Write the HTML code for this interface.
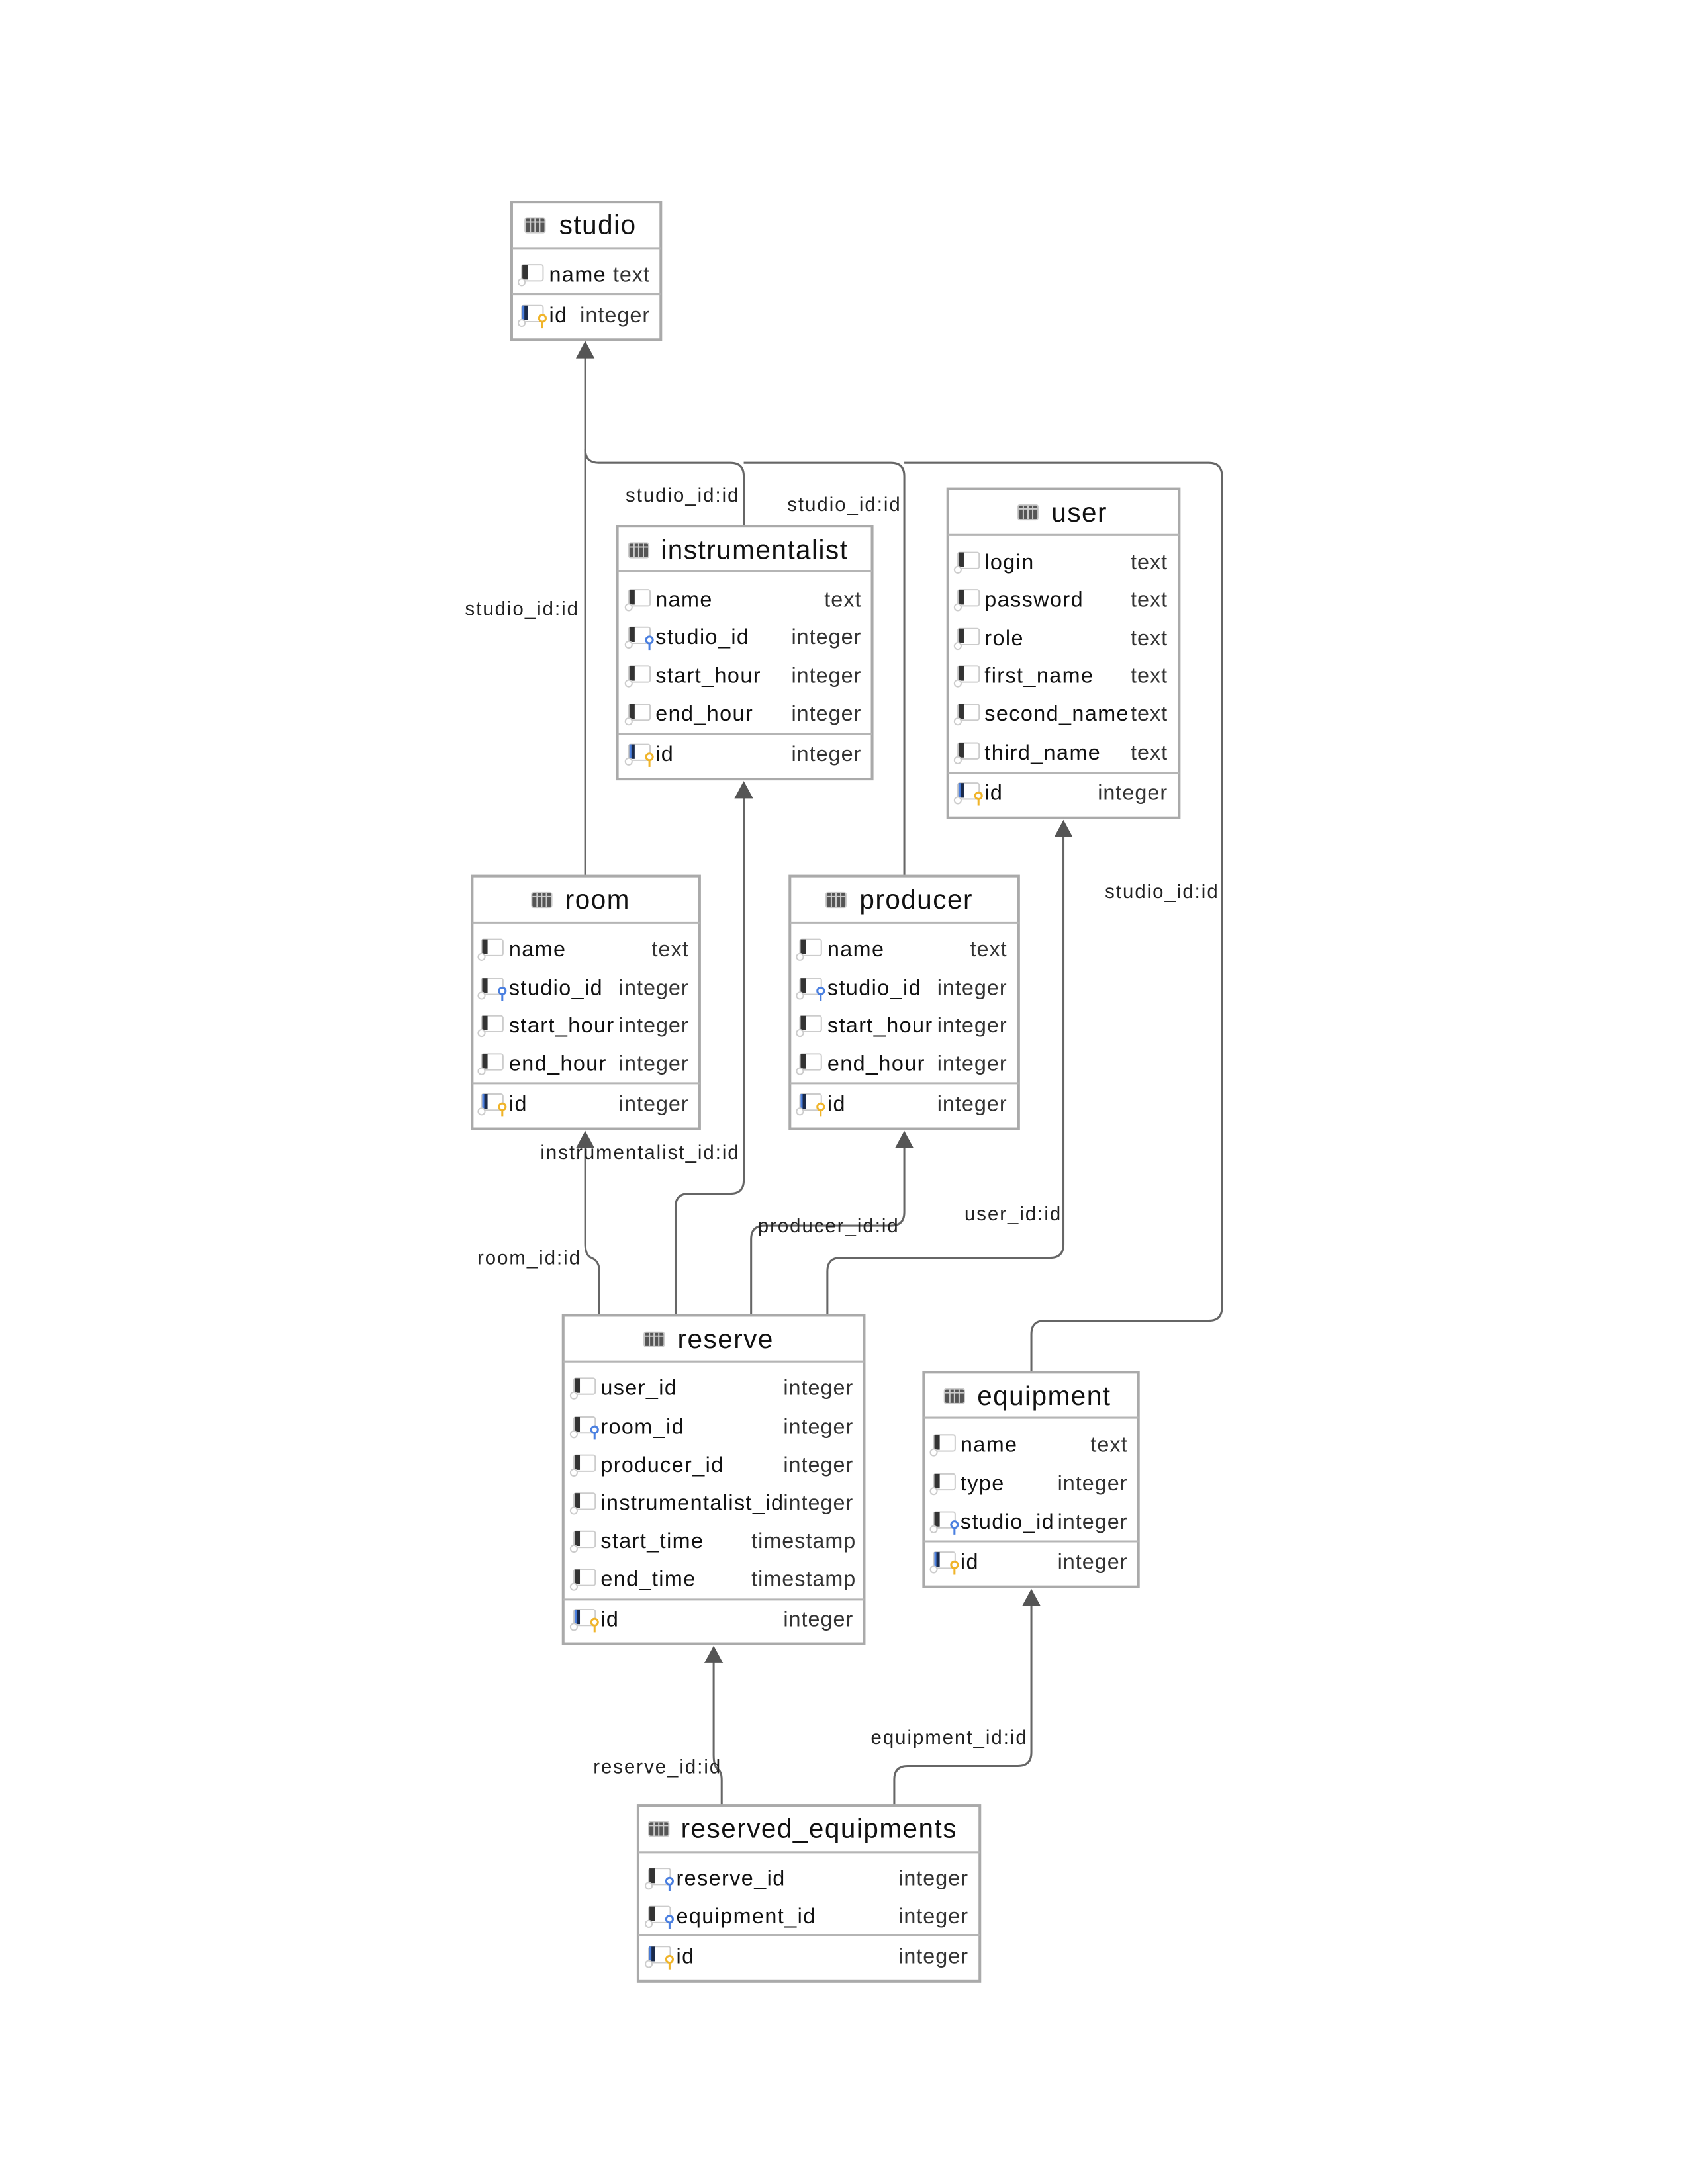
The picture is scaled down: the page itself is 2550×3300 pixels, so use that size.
<!DOCTYPE html>
<html><head><meta charset="utf-8"><style>
html,body{margin:0;padding:0;background:#fff;}
svg{display:block;}
text{font-family:"Liberation Sans",sans-serif;}
.t{font-size:40px;fill:#111;letter-spacing:1.5px;}
.n{font-size:32px;fill:#111;letter-spacing:1.4px;}
.ty{font-size:32px;fill:#333;text-anchor:end;letter-spacing:1px;}
.l{font-size:29px;fill:#222;letter-spacing:2px;}
.box{fill:#fff;stroke:#aaa;stroke-width:4;}
.sep{stroke:#b5b5b5;stroke-width:3;}
.c{fill:none;stroke:#666;stroke-width:3;}
</style></head><body>
<svg width="2550" height="3300" viewBox="0 0 2550 3300" xmlns="http://www.w3.org/2000/svg">
<defs>
<g id="tbl"><rect x="0" y="0" width="30" height="22" rx="3" fill="#555" stroke="#ccc" stroke-width="2"/><line x1="8" y1="1" x2="8" y2="21" stroke="#ccc" stroke-width="2"/><line x1="15" y1="1" x2="15" y2="21" stroke="#ccc" stroke-width="2"/><line x1="22" y1="1" x2="22" y2="21" stroke="#ccc" stroke-width="2"/><line x1="1" y1="6" x2="29" y2="6" stroke="#ccc" stroke-width="2"/></g>
<g id="col"><rect x="0" y="-14" width="32" height="24" rx="3" fill="#fff" stroke="#ccc" stroke-width="2"/><rect x="1" y="-14" width="8" height="22" fill="#333"/><circle cx="0" cy="12" r="5" fill="#fff" stroke="#ccc" stroke-width="2"/></g>
<g id="pk"><rect x="0" y="-14" width="32" height="24" rx="3" fill="#fff" stroke="#ccc" stroke-width="2"/><rect x="1" y="-14" width="8" height="22" fill="#1a2a4a"/><rect x="1" y="-14" width="3" height="22" fill="#4a7fe0"/><circle cx="0" cy="12" r="5" fill="#fff" stroke="#ccc" stroke-width="2"/><circle cx="31" cy="5" r="5" fill="#fff" stroke="#f0b429" stroke-width="3"/><line x1="31" y1="10" x2="31" y2="20" stroke="#f0b429" stroke-width="3"/></g>
<g id="fk"><rect x="0" y="-14" width="32" height="24" rx="3" fill="#fff" stroke="#ccc" stroke-width="2"/><rect x="1" y="-14" width="8" height="22" fill="#333"/><circle cx="0" cy="12" r="5" fill="#fff" stroke="#ccc" stroke-width="2"/><circle cx="31" cy="5" r="5" fill="#fff" stroke="#4a7fe0" stroke-width="3"/><line x1="31" y1="10" x2="31" y2="20" stroke="#4a7fe0" stroke-width="3"/></g>
<path id="arr" d="M0,0 L-14,26 L14,26 Z" fill="#555"/>
</defs>
<g transform="scale(1.0104)">
<!-- connectors -->
<path class="c" d="M875,1310 L875,530"/>
<path class="c" d="M1112,787 L1112,712 Q1112,692 1092,692 L895,692 Q875,692 875,672"/>
<path class="c" d="M1352,1310 L1352,712 Q1352,692 1332,692 L1112,692"/>
<path class="c" d="M1542,2052 L1542,1995 Q1542,1975 1562,1975 L1807,1975 Q1827,1975 1827,1955 L1827,712 Q1827,692 1807,692 L1352,692"/>
<path class="c" d="M896,1967 L896,1900 Q896,1885 882,1880 Q875,1875 875,1860 L875,1712"/>
<path class="c" d="M1010,1967 L1010,1805 Q1010,1785 1030,1785 L1092,1785 Q1112,1785 1112,1765 L1112,1190"/>
<path class="c" d="M1123,1967 L1123,1853 Q1123,1833 1143,1833 L1332,1833 Q1352,1833 1352,1813 L1352,1712"/>
<path class="c" d="M1237,1967 L1237,1901 Q1237,1881 1257,1881 L1570,1881 Q1590,1881 1590,1861 L1590,1248"/>
<path class="c" d="M1079,2700 L1079,2662 Q1079,2648 1072,2645 Q1067,2640 1067,2625 L1067,2482"/>
<path class="c" d="M1337,2700 L1337,2661 Q1337,2641 1357,2641 L1522,2641 Q1542,2641 1542,2621 L1542,2398"/>
<use href="#arr" x="875" y="510"/>
<use href="#arr" x="1112" y="1168"/>
<use href="#arr" x="1590" y="1226"/>
<use href="#arr" x="875" y="1691"/>
<use href="#arr" x="1352" y="1691"/>
<use href="#arr" x="1067" y="2461"/>
<use href="#arr" x="1542" y="2376"/>

<text class="l" x="866" y="920" text-anchor="end">studio_id:id</text>
<text class="l" x="1106" y="750" text-anchor="end">studio_id:id</text>
<text class="l" x="1177" y="764">studio_id:id</text>
<text class="l" x="1652" y="1343">studio_id:id</text>
<text class="l" x="869" y="1891" text-anchor="end">room_id:id</text>
<text class="l" x="808" y="1733">instrumentalist_id:id</text>
<text class="l" x="1133" y="1843">producer_id:id</text>
<text class="l" x="1442" y="1825">user_id:id</text>
<text class="l" x="887" y="2652">reserve_id:id</text>
<text class="l" x="1302" y="2608">equipment_id:id</text>

<!-- studio -->
<rect class="box" x="765" y="302" width="223" height="206"/>
<line class="sep" x1="765" y1="371" x2="988" y2="371"/><line class="sep" x1="765" y1="440" x2="988" y2="440"/>
<use href="#tbl" x="785" y="326"/><text class="t" x="836" y="350">studio</text>
<use href="#col" x="780" y="410"/><text class="n" x="821" y="421">name</text><text class="ty" x="972" y="421">text</text>
<use href="#pk" x="780" y="471"/><text class="n" x="821" y="482">id</text><text class="ty" x="972" y="482">integer</text>

<!-- instrumentalist -->
<rect class="box" x="923" y="787" width="381" height="378"/>
<line class="sep" x1="923" y1="854" x2="1304" y2="854"/><line class="sep" x1="923" y1="1098" x2="1304" y2="1098"/>
<use href="#tbl" x="940" y="812"/><text class="t" x="988" y="836">instrumentalist</text>
<use href="#col" x="940" y="896"/><text class="n" x="980" y="907">name</text><text class="ty" x="1288" y="907">text</text>
<use href="#fk" x="940" y="952"/><text class="n" x="980" y="963">studio_id</text><text class="ty" x="1288" y="963">integer</text>
<use href="#col" x="940" y="1010"/><text class="n" x="980" y="1021">start_hour</text><text class="ty" x="1288" y="1021">integer</text>
<use href="#col" x="940" y="1067"/><text class="n" x="980" y="1078">end_hour</text><text class="ty" x="1288" y="1078">integer</text>
<use href="#pk" x="940" y="1127"/><text class="n" x="980" y="1138">id</text><text class="ty" x="1288" y="1138">integer</text>

<!-- user -->
<rect class="box" x="1417" y="731" width="346" height="492"/>
<line class="sep" x1="1417" y1="800" x2="1763" y2="800"/><line class="sep" x1="1417" y1="1156" x2="1763" y2="1156"/>
<use href="#tbl" x="1522" y="755"/><text class="t" x="1572" y="780">user</text>
<use href="#col" x="1432" y="840"/><text class="n" x="1472" y="851">login</text><text class="ty" x="1746" y="851">text</text>
<use href="#col" x="1432" y="896"/><text class="n" x="1472" y="907">password</text><text class="ty" x="1746" y="907">text</text>
<use href="#col" x="1432" y="954"/><text class="n" x="1472" y="965">role</text><text class="ty" x="1746" y="965">text</text>
<use href="#col" x="1432" y="1010"/><text class="n" x="1472" y="1021">first_name</text><text class="ty" x="1746" y="1021">text</text>
<use href="#col" x="1432" y="1067"/><text class="n" x="1472" y="1078">second_name</text><text class="ty" x="1746" y="1078">text</text>
<use href="#col" x="1432" y="1125"/><text class="n" x="1472" y="1136">third_name</text><text class="ty" x="1746" y="1136">text</text>
<use href="#pk" x="1432" y="1185"/><text class="n" x="1472" y="1196">id</text><text class="ty" x="1746" y="1196">integer</text>

<!-- room -->
<rect class="box" x="706" y="1310" width="340" height="378"/>
<line class="sep" x1="706" y1="1380" x2="1046" y2="1380"/><line class="sep" x1="706" y1="1620" x2="1046" y2="1620"/>
<use href="#tbl" x="795" y="1335"/><text class="t" x="845" y="1359">room</text>
<use href="#col" x="720" y="1419"/><text class="n" x="761" y="1430">name</text><text class="ty" x="1030" y="1430">text</text>
<use href="#fk" x="720" y="1477"/><text class="n" x="761" y="1488">studio_id</text><text class="ty" x="1030" y="1488">integer</text>
<use href="#col" x="720" y="1533"/><text class="n" x="761" y="1544">start_hour</text><text class="ty" x="1030" y="1544">integer</text>
<use href="#col" x="720" y="1590"/><text class="n" x="761" y="1601">end_hour</text><text class="ty" x="1030" y="1601">integer</text>
<use href="#pk" x="720" y="1650"/><text class="n" x="761" y="1661">id</text><text class="ty" x="1030" y="1661">integer</text>

<!-- producer -->
<rect class="box" x="1181" y="1310" width="342" height="378"/>
<line class="sep" x1="1181" y1="1380" x2="1523" y2="1380"/><line class="sep" x1="1181" y1="1620" x2="1523" y2="1620"/>
<use href="#tbl" x="1235" y="1335"/><text class="t" x="1285" y="1359">producer</text>
<use href="#col" x="1196" y="1419"/><text class="n" x="1237" y="1430">name</text><text class="ty" x="1506" y="1430">text</text>
<use href="#fk" x="1196" y="1477"/><text class="n" x="1237" y="1488">studio_id</text><text class="ty" x="1506" y="1488">integer</text>
<use href="#col" x="1196" y="1533"/><text class="n" x="1237" y="1544">start_hour</text><text class="ty" x="1506" y="1544">integer</text>
<use href="#col" x="1196" y="1590"/><text class="n" x="1237" y="1601">end_hour</text><text class="ty" x="1506" y="1601">integer</text>
<use href="#pk" x="1196" y="1650"/><text class="n" x="1237" y="1661">id</text><text class="ty" x="1506" y="1661">integer</text>

<!-- reserve -->
<rect class="box" x="842" y="1967" width="450" height="491"/>
<line class="sep" x1="842" y1="2036" x2="1292" y2="2036"/><line class="sep" x1="842" y1="2392" x2="1292" y2="2392"/>
<use href="#tbl" x="963" y="1992"/><text class="t" x="1013" y="2016">reserve</text>
<use href="#col" x="858" y="2075"/><text class="n" x="898" y="2086">user_id</text><text class="ty" x="1276" y="2086">integer</text>
<use href="#fk" x="858" y="2133"/><text class="n" x="898" y="2144">room_id</text><text class="ty" x="1276" y="2144">integer</text>
<use href="#col" x="858" y="2190"/><text class="n" x="898" y="2201">producer_id</text><text class="ty" x="1276" y="2201">integer</text>
<use href="#col" x="858" y="2247"/><text class="n" x="898" y="2258">instrumentalist_id</text><text class="ty" x="1276" y="2258">integer</text>
<use href="#col" x="858" y="2304"/><text class="n" x="898" y="2315">start_time</text><text class="ty" x="1280" y="2315">timestamp</text>
<use href="#col" x="858" y="2361"/><text class="n" x="898" y="2372">end_time</text><text class="ty" x="1280" y="2372">timestamp</text>
<use href="#pk" x="858" y="2421"/><text class="n" x="898" y="2432">id</text><text class="ty" x="1276" y="2432">integer</text>

<!-- equipment -->
<rect class="box" x="1381" y="2052" width="321" height="321"/>
<line class="sep" x1="1381" y1="2120" x2="1702" y2="2120"/><line class="sep" x1="1381" y1="2305" x2="1702" y2="2305"/>
<use href="#tbl" x="1412" y="2077"/><text class="t" x="1461" y="2101">equipment</text>
<use href="#col" x="1396" y="2160"/><text class="n" x="1436" y="2171">name</text><text class="ty" x="1686" y="2171">text</text>
<use href="#col" x="1396" y="2218"/><text class="n" x="1436" y="2229">type</text><text class="ty" x="1686" y="2229">integer</text>
<use href="#fk" x="1396" y="2275"/><text class="n" x="1436" y="2286">studio_id</text><text class="ty" x="1686" y="2286">integer</text>
<use href="#pk" x="1396" y="2335"/><text class="n" x="1436" y="2346">id</text><text class="ty" x="1686" y="2346">integer</text>

<!-- reserved_equipments -->
<rect class="box" x="954" y="2700" width="511" height="263"/>
<line class="sep" x1="954" y1="2770" x2="1465" y2="2770"/><line class="sep" x1="954" y1="2894" x2="1465" y2="2894"/>
<use href="#tbl" x="970" y="2724"/><text class="t" x="1018" y="2748">reserved_equipments</text>
<use href="#fk" x="970" y="2808"/><text class="n" x="1011" y="2819">reserve_id</text><text class="ty" x="1448" y="2819">integer</text>
<use href="#fk" x="970" y="2865"/><text class="n" x="1011" y="2876">equipment_id</text><text class="ty" x="1448" y="2876">integer</text>
<use href="#pk" x="970" y="2925"/><text class="n" x="1011" y="2936">id</text><text class="ty" x="1448" y="2936">integer</text>
</g>
</svg>
</body></html>
